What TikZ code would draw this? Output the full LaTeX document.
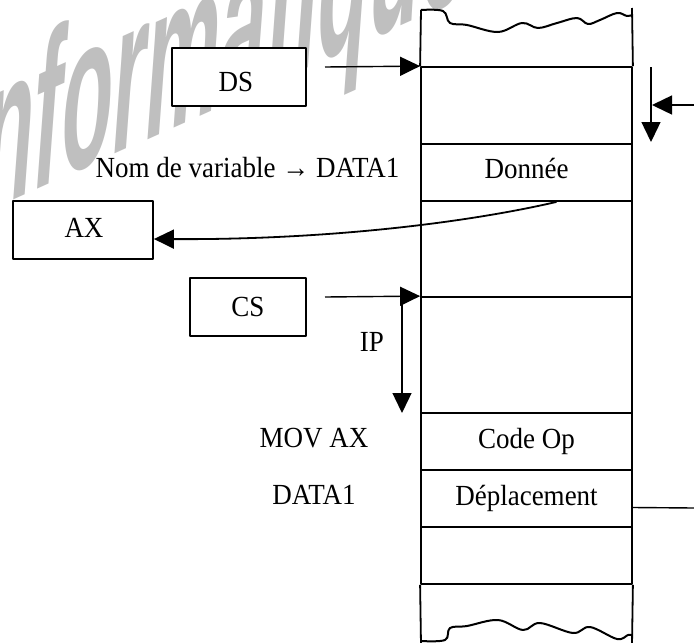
\documentclass[tikz,border=0pt]{standalone}
\usepackage{fontspec}
\setmainfont{Liberation Serif}
\newfontfamily\wmfont{Liberation Sans}
\usepackage{graphicx}
\usetikzlibrary{arrows.meta,calc}
\newcommand\tx[1]{\scalebox{1}[1.08]{#1}}
\begin{document}
\begin{tikzpicture}[x=1pt,y=-1pt,line join=round,
  cell/.style={draw,line width=1.8pt,minimum width=211pt,inner sep=0pt},
  regbox/.style={draw,fill=white,line width=1.8pt,inner sep=0pt},
  lbl/.style={font=\fontsize{27}{30}\selectfont,inner sep=0pt,anchor=base},
  arr/.style={line width=1.4pt,-{Triangle[length=20pt,width=19pt]}},
  plain/.style={line width=1.4pt},
  wave/.style={line width=2pt}]
\useasboundingbox (0,0) rectangle (694,643);
% watermark
\begin{scope}[shift={(-40,224)},yslant=0.45]
  \node[transform shape,xscale=0.39,anchor=base west,inner sep=0pt,text=black!25,
        font=\wmfont\bfseries\itshape\fontsize{215}{215}\selectfont] (wm) at (0,0) {informatique};
\end{scope}
% memory column
\node[cell,minimum height=77pt] (c1) at (526.5,105.5) {};
\node[cell,minimum height=57pt] (c2) at (526.5,172.5) {};
\node[cell,minimum height=96pt] (c3) at (526.5,249) {};
\node[cell,minimum height=116pt] (c4) at (526.5,355) {};
\node[cell,minimum height=57pt] (c5) at (526.5,441.5) {};
\node[cell,minimum height=57pt] (c6) at (526.5,498.5) {};
\node[cell,minimum height=57pt] (c7) at (526.5,555.5) {};
\draw[line width=1.8pt] (c1.north west) -- (421,10);
\draw[line width=1.8pt] (c1.north east) -- (632,8);
\draw[line width=1.8pt] (c7.south west) -- (421,645);
\draw[line width=1.8pt] (c7.south east) -- (632,645);
\draw[wave] plot[smooth,tension=0.6] coordinates {(421,10) (443,11) (450,23) (467,25) (498,32) (522,23) (538,28) (557,23) (577,18) (588,24) (600,20) (617,13) (627,16) (632,15)};
\draw[wave] plot[smooth,tension=0.6] coordinates {(421,641) (445,640) (450,628) (467,626) (498,620) (523,630) (540,623) (573,633) (590,627) (617,639) (628,635) (632,635)};
% cell texts
\node[lbl] (tDon) at (526.5,178) {\tx{Donnée}};
\node[lbl] (tCode) at (526.5,448) {\tx{Code Op}};
\node[lbl] (tDep) at (526.5,505) {\tx{Déplacement}};
% registers
\node[regbox,minimum width=134pt,minimum height=58pt] (DS) at (239,77) {};
\node[lbl] (tDS) at (236,91) {\tx{DS}};
\node[regbox,minimum width=140pt,minimum height=58pt] (AX) at (83,230) {};
\node[lbl] (tAX) at (84,237) {\tx{AX}};
\node[regbox,minimum width=116pt,minimum height=58pt] (CS) at (248,307) {};
\node[lbl] (tCS) at (248,316) {\tx{CS}};
% side labels
\node[lbl] (tNom) at (247.5,177) {\tx{Nom de variable \textbf{→} DATA1}};
\node[lbl] (tIP) at (372,351) {\tx{IP}};
\node[lbl] (tMov) at (314,447) {\tx{MOV AX}};
\node[lbl] (tData) at (314,504) {\tx{DATA1}};
% connectors
\coordinate (dsA) at (325,67);
\coordinate (csA) at (325,297);
\coordinate (ipS) at (402,297);
\coordinate (ipE) at (402,413);
\coordinate (rvS) at (651,67);
\coordinate (rvE) at (651,142);
\coordinate (rhS) at (694,105);
\coordinate (rhE) at (652,105);
\coordinate (dpE) at (694,508);
\draw[arr] (dsA) -- (c1.north west);
\draw[arr] (csA) -- (c4.north west);
\draw[arr] (ipS) -- (ipE);
\draw[arr] (rvS) -- (rvE);
\draw[arr] (rhS) -- (rhE);
\draw[plain] ($(c6.east)+(0,9)$) -- (dpE);
\draw[arr,line width=1.8pt] ($(c2.south)+(30,0)$) .. controls (470,222) and (330,240) .. ($(AX.east)+(0,9)$);
\end{tikzpicture}
\end{document}
